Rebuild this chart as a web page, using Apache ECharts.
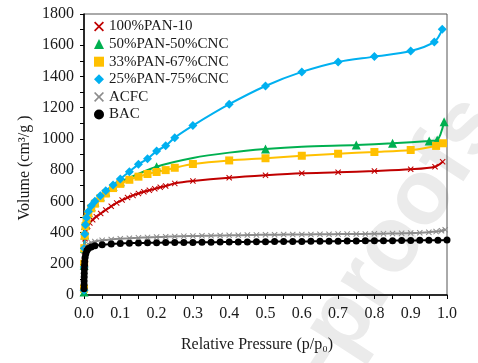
<!DOCTYPE html>
<html>
<head>
<meta charset="utf-8">
<script src="https://cdn.jsdelivr.net/npm/echarts@6/dist/echarts.min.js"></script>
<style>
html,body{margin:0;padding:0;background:#fff;}
#chart{width:478px;height:363px;}
</style>
</head>
<body>
<div id="chart"></div>
<script>
// ---- data ----
const seriesNames = ['100%PAN-10', '50%PAN-50%CNC', '33%PAN-67%CNC', '25%PAN-75%CNC', 'ACFC', 'BAC'];

const xPAN10 = [0.0002, 0.001, 0.003, 0.006, 0.01, 0.016, 0.024, 0.034, 0.046, 0.06, 0.075, 0.09, 0.105, 0.12, 0.135, 0.15, 0.165, 0.18, 0.195, 0.21, 0.225, 0.25, 0.3, 0.4, 0.5, 0.6, 0.7, 0.8, 0.9, 0.967, 0.988];
const yPAN10 = [80, 250, 360, 410, 440, 462, 482, 502, 522, 545, 568, 590, 608, 624, 638, 650, 661, 671, 680, 690, 698, 715, 730, 751, 767, 780, 786, 794, 805, 822, 854];

const xPAN50 = [0.0001, 0.0005, 0.001, 0.002, 0.004, 0.007, 0.012, 0.02, 0.03, 0.045, 0.06, 0.08, 0.1, 0.2, 0.3, 0.4, 0.5, 0.6, 0.75, 0.85, 0.951, 0.973, 0.992];
const yPAN50 = [20, 190, 300, 385, 445, 490, 528, 565, 595, 630, 660, 695, 725, 822, 878, 912, 935, 950, 961, 972, 987, 993, 1110];
// curve positions of the green line read where it shows no marker
const xPAN50NoMarker = [0.3, 0.4, 0.6];

const xPAN33 = [0.0001, 0.0005, 0.001, 0.002, 0.004, 0.007, 0.012, 0.02, 0.03, 0.045, 0.06, 0.08, 0.1, 0.125, 0.15, 0.175, 0.2, 0.225, 0.25, 0.3, 0.4, 0.5, 0.6, 0.7, 0.8, 0.9, 0.97, 0.989];
const yPAN33 = [40, 200, 300, 380, 440, 485, 520, 555, 585, 620, 650, 685, 712, 738, 758, 775, 788, 800, 815, 839, 862, 876, 892, 905, 916, 929, 955, 972];

const xPAN25 = [0.0001, 0.0005, 0.001, 0.002, 0.004, 0.007, 0.012, 0.02, 0.03, 0.045, 0.06, 0.08, 0.1, 0.125, 0.15, 0.175, 0.2, 0.225, 0.25, 0.3, 0.4, 0.5, 0.6, 0.7, 0.8, 0.9, 0.965, 0.987];
const yPAN25 = [30, 180, 300, 390, 450, 495, 535, 572, 600, 635, 667, 705, 743, 790, 837, 873, 922, 956, 1008, 1085, 1222, 1339, 1429, 1493, 1527, 1563, 1621, 1702];

const xACFC = [0.0002, 0.001, 0.002, 0.004, 0.007, 0.012, 0.02, 0.03, 0.05, 0.075, 0.1, 0.125, 0.15, 0.175, 0.2, 0.225, 0.25, 0.275, 0.3, 0.325, 0.35, 0.375, 0.4, 0.425, 0.45, 0.475, 0.5, 0.525, 0.55, 0.575, 0.6, 0.625, 0.65, 0.675, 0.7, 0.725, 0.75, 0.775, 0.8, 0.825, 0.85, 0.875, 0.9, 0.925, 0.95, 0.97, 0.985, 0.995];
const yACFC = [60, 180, 250, 290, 312, 325, 335, 342, 350, 356, 360, 363, 366, 369, 371, 373, 375, 377, 378, 379, 380, 381, 382, 383, 384, 385, 386, 386, 387, 387, 388, 388, 389, 389, 390, 390, 391, 391, 392, 393, 394, 395, 397, 399, 402, 406, 411, 418];

const xBAC = [0.0001, 0.0002, 0.0003, 0.0005, 0.0007, 0.001, 0.0015, 0.002, 0.003, 0.005, 0.008, 0.012, 0.02, 0.03, 0.05, 0.075, 0.1, 0.125, 0.15, 0.175, 0.2, 0.225, 0.25, 0.275, 0.3, 0.325, 0.35, 0.375, 0.4, 0.425, 0.45, 0.475, 0.5, 0.525, 0.55, 0.575, 0.6, 0.625, 0.65, 0.675, 0.7, 0.725, 0.75, 0.775, 0.8, 0.825, 0.85, 0.875, 0.9, 0.925, 0.95, 0.975, 1.0];
const yBAC = [40, 65, 90, 115, 140, 165, 190, 215, 240, 265, 285, 298, 308, 315, 322, 327, 330, 332, 333, 334, 335, 336, 336, 337, 337, 338, 338, 339, 339, 340, 340, 341, 341, 342, 342, 343, 343, 344, 344, 345, 345, 346, 346, 347, 347, 348, 348, 349, 349, 350, 350, 351, 352];

const xTicks = [0, 0.1, 0.2, 0.3, 0.4, 0.5, 0.6, 0.7, 0.8, 0.9, 1.0];
const yTicks = [0, 200, 400, 600, 800, 1000, 1200, 1400, 1600, 1800];

// ---- styling ----
const FONT = '"Liberation Serif", "Times New Roman", serif';
const crossPath = 'path://M0,1.2L1.2,0L5,3.8L8.8,0L10,1.2L6.2,5L10,8.8L8.8,10L5,6.2L1.2,10L0,8.8L3.8,5Z';
const colors = ['#C00000', '#00B050', '#FFC000', '#00B0F0', '#8C8C8C', '#000000'];
const symbols = [crossPath, 'triangle', 'rect', 'diamond', crossPath, 'circle'];
const symbolSizes = [6, 9, 8, 9, 6, 7];
const xs = [xPAN10, xPAN50, xPAN33, xPAN25, xACFC, xBAC];
const ys = [yPAN10, yPAN50, yPAN33, yPAN25, yACFC, yBAC];
const noMarker = [[], xPAN50NoMarker, [], [], [], []];

const series = seriesNames.map((name, i) => ({
  name: name,
  type: 'line',
  data: xs[i].map((x, k) => noMarker[i].includes(x)
    ? { value: [x, ys[i][k]], symbol: 'none' }
    : [x, ys[i][k]]),
  smooth: 0.3,
  symbol: symbols[i],
  symbolSize: symbolSizes[i],
  showAllSymbol: true,
  color: colors[i],
  lineStyle: { width: 2, color: colors[i] },
  itemStyle: { color: colors[i] },
  emphasis: { disabled: true },
  clip: false,
  animation: false
}));

const chart = echarts.init(document.getElementById('chart'), null, { renderer: 'canvas' });
chart.setOption({
  animation: false,
  backgroundColor: '#fff',
  grid: { left: 84, right: 31, top: 14, bottom: 68, show: true, borderColor: '#555', borderWidth: 1, backgroundColor: 'transparent' },
  graphic: [
    { type: 'text', z: -10, x: 482, y: 106, rotation: Math.PI * 57 / 180,
      style: { text: 'Journal Pre-proofs', font: 'bold 92px "Liberation Sans", Arial, sans-serif', fill: '#ebebeb', textAlign: 'right', textVerticalAlign: 'middle' } },
    { type: 'text', z: 10, rotation: Math.PI / 2, x: 25, y: 168,
      style: { text: 'Volume (cm³/g )', font: '16px ' + FONT, fill: '#1a1a1a', textAlign: 'center', textVerticalAlign: 'middle' } },
    { type: 'text', z: 10, x: 257, y: 345,
      style: { text: 'Relative Pressure (p/p₀)', font: '16px ' + FONT, fill: '#1a1a1a', textAlign: 'center', textVerticalAlign: 'middle' } }
  ],
  legend: {
    orient: 'vertical',
    left: 89, top: 14,
    itemWidth: 10, itemHeight: 10,
    itemGap: 2.6,
    textStyle: { fontFamily: FONT, fontSize: 15, color: '#1a1a1a' },
    data: seriesNames.map((n, i) => ({ name: n, icon: symbols[i] })),
    selectedMode: false
  },
  xAxis: {
    type: 'value', min: 0, max: 1, interval: 0.1,
    axisLine: { show: true, onZero: false, lineStyle: { color: '#000', width: 1.5 } },
    axisTick: { show: true, inside: false, length: 4, lineStyle: { color: '#000', width: 1 } },
    minorTick: { show: true, splitNumber: 2, length: 4, lineStyle: { color: '#000', width: 1 } },
    splitLine: { show: false },
    axisLabel: { margin: 11, fontFamily: FONT, fontSize: 16, color: '#1a1a1a',
      formatter: v => { const t = xTicks.find(k => Math.abs(k - v) < 1e-9); return t === undefined ? '' : t.toFixed(1); } }
  },
  yAxis: {
    type: 'value', min: 0, max: 1800, interval: 200,
    axisLine: { show: true, onZero: false, lineStyle: { color: '#000', width: 1.5 } },
    axisTick: { show: true, inside: false, length: 4, lineStyle: { color: '#000', width: 1 } },
    minorTick: { show: true, splitNumber: 2, length: 4, lineStyle: { color: '#000', width: 1 } },
    splitLine: { show: false },
    axisLabel: { margin: 10, fontFamily: FONT, fontSize: 16, color: '#1a1a1a',
      formatter: v => { const t = yTicks.find(k => Math.abs(k - v) < 1e-6); return t === undefined ? '' : String(t); } }
  },
  series: series
});
</script>
</body>
</html>
